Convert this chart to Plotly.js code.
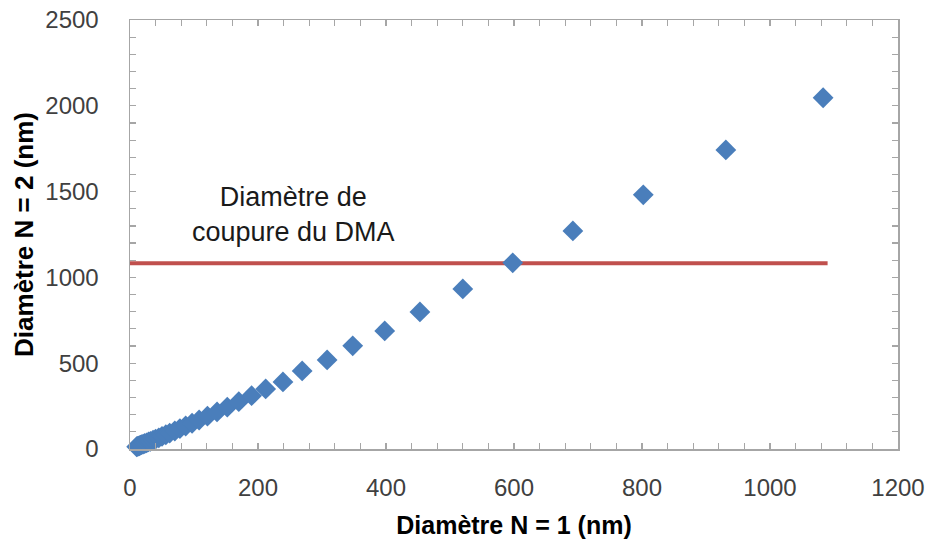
<!DOCTYPE html>
<html>
<head>
<meta charset="utf-8">
<script src="https://cdn.plot.ly/plotly-3.0.1.min.js"></script>
<style>html,body{margin:0;padding:0;background:#fff;}#chart{width:932px;height:548px;}</style>
</head>
<body>
<div id="chart"></div>
<script>
// Diamètre N = 1 (nm)
var diamN1 = [10.4, 11.6, 13, 14.6, 16.4, 18.3, 20.5, 23, 26, 29, 32, 36, 40, 45, 50, 56, 62, 70, 78, 87, 97, 108, 121, 136, 152, 170, 190, 212, 239, 269, 308, 348, 398, 453, 520, 598, 692, 802, 931, 1083];
// Diamètre N = 2 (nm)
var diamN2 = [13, 15, 17, 19, 22, 25, 28, 32, 36, 41, 45, 51, 58, 65, 73, 83, 93, 105, 119, 134, 150, 169, 191, 216, 244, 276, 311, 350, 391, 455, 519, 601, 688, 799, 933, 1085, 1271, 1481, 1743, 2047];
// Diamètre de coupure du DMA (horizontal line)
var cutX = [0, 1090];
var cutY = [1083, 1083];
var xTicks = [0, 200, 400, 600, 800, 1000, 1200];
var yTicks = [0, 500, 1000, 1500, 2000, 2500];

var axisColor = '#a6a6a6';
var tickFont = {family: 'Liberation Sans, Arial, sans-serif', size: 24, color: '#404040'};
var xTitleFont = {family: 'Liberation Sans Narrow, Arial Narrow, sans-serif', size: 25, color: '#000', weight: 'bold'};
var yTitleFont = {family: 'Liberation Sans Narrow, Arial Narrow, sans-serif', size: 26, color: '#000', weight: 'bold'};

var traces = [
  {x: cutX, y: cutY, mode: 'lines', line: {color: '#c0504d', width: 4}, hoverinfo: 'skip', showlegend: false, cliponaxis: false},
  {x: diamN1, y: diamN2, mode: 'markers', marker: {symbol: 'diamond', size: 16, color: '#4a7ebb'}, showlegend: false, cliponaxis: false}
];

var layout = {
  width: 932, height: 548,
  margin: {l: 130, r: 34, t: 20, b: 99},
  paper_bgcolor: '#fff', plot_bgcolor: '#fff',
  showlegend: false,
  xaxis: {
    range: [0, 1200], tickvals: xTicks, ticktext: xTicks.map(String),
    showgrid: false, zeroline: false,
    showline: true, linecolor: axisColor, linewidth: 1.5, mirror: 'allticks',
    ticks: 'inside', ticklen: 6, tickcolor: axisColor, tickwidth: 1.2,
    minor: {dtick: 40, ticks: 'inside', ticklen: 6, tickcolor: axisColor, tickwidth: 1.2, showgrid: false},
    tickfont: tickFont, ticklabelstandoff: 17,
    title: {text: 'Diamètre N = 1 (nm)', font: xTitleFont, standoff: 16}
  },
  yaxis: {
    range: [0, 2500], tickvals: yTicks, ticktext: yTicks.map(String),
    showgrid: false, zeroline: false,
    showline: true, linecolor: axisColor, linewidth: 1.5, mirror: 'allticks',
    ticks: 'inside', ticklen: 6, tickcolor: axisColor, tickwidth: 1.2,
    minor: {dtick: 100, ticks: 'inside', ticklen: 6, tickcolor: axisColor, tickwidth: 1.2, showgrid: false},
    tickfont: tickFont, ticklabelstandoff: 25,
    title: {text: 'Diamètre N = 2 (nm)', font: yTitleFont, standoff: 4}
  },
  annotations: [{
    x: 255, y: 1369, xref: 'x', yref: 'y', showarrow: false,
    text: 'Diamètre de<br>coupure du DMA', align: 'center',
    font: {family: 'Liberation Sans, Arial, sans-serif', size: 27, color: '#1a1a1a'}
  }]
};

Plotly.newPlot('chart', traces, layout, {staticPlot: true, displayModeBar: false});
</script>
</body>
</html>
